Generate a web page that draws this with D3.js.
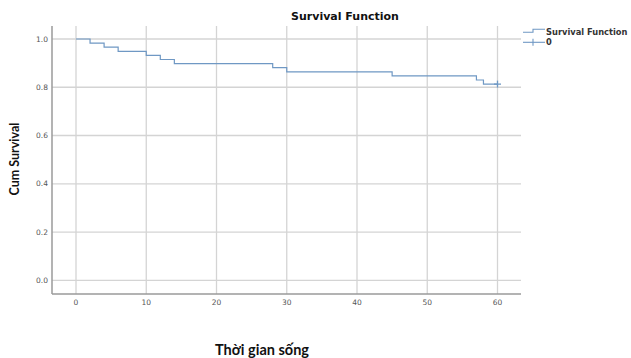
<!DOCTYPE html>
<html><head><meta charset="utf-8">
<script src="https://cdn.jsdelivr.net/npm/d3@7"></script>
<style>body{margin:0;background:#fff}svg{display:block}</style>
</head><body>
<script>
// Data
const eventTimes = [0, 2, 4, 6, 10, 12, 14, 28, 30, 45, 57, 58];
const survival   = [1.0, 0.983, 0.966, 0.949, 0.932, 0.915, 0.898, 0.881, 0.864, 0.847, 0.830, 0.813];
const censorTimes = [60];
const censorSurvival = [0.813];
const xTicks = [0, 10, 20, 30, 40, 50, 60];
const yTicks = [0.0, 0.2, 0.4, 0.6, 0.8, 1.0];
const legendLabels = ["Survival Function", "0"];

const W = 631, H = 358;
const svg = d3.select("body").append("svg").attr("width", W).attr("height", H);

const pLeft = 52, pRight = 521, pTop = 26, pBottom = 294;
const x = d3.scaleLinear().domain([0, 60]).range([76, 497.5]);
const y = d3.scaleLinear().domain([0, 1]).range([280.3, 39]);

// gridlines
const g = svg.append("g");
g.selectAll(".hg").data(yTicks).enter().append("line")
  .attr("x1", pLeft).attr("x2", pRight)
  .attr("y1", d => y(d)).attr("y2", d => y(d))
  .attr("stroke", "#d4d4d4").attr("stroke-width", 1.3);
g.selectAll(".vg").data(xTicks).enter().append("line")
  .attr("y1", pTop).attr("y2", pBottom)
  .attr("x1", d => x(d)).attr("x2", d => x(d))
  .attr("stroke", "#d4d4d4").attr("stroke-width", 1.3);

// axis lines
svg.append("line").attr("x1", pLeft).attr("x2", pLeft).attr("y1", pTop).attr("y2", pBottom)
  .attr("stroke", "#9a9a9a").attr("stroke-width", 1.5);
svg.append("line").attr("x1", pLeft).attr("x2", pRight).attr("y1", pBottom).attr("y2", pBottom)
  .attr("stroke", "#9a9a9a").attr("stroke-width", 1.5);

// tick labels
svg.selectAll(".yt").data(yTicks).enter().append("text")
  .attr("x", 48).attr("y", d => y(d)).attr("dy", "0.35em")
  .attr("text-anchor", "end").attr("font-family", "DejaVu Sans").attr("font-size", 7.5)
  .attr("fill", "#555").text(d => d.toFixed(1));
svg.selectAll(".xt").data(xTicks).enter().append("text")
  .attr("x", d => x(d)).attr("y", 302).attr("dy", "0.35em")
  .attr("text-anchor", "middle").attr("font-family", "DejaVu Sans").attr("font-size", 7.5)
  .attr("fill", "#555").text(d => d);

// step curve
const pts = eventTimes.map((t, i) => [t, survival[i]]);
pts.push([censorTimes[0], censorSurvival[0]]);
const line = d3.line().x(d => x(d[0])).y(d => y(d[1])).curve(d3.curveStepAfter);
const curveColor = "#6f98c4";
svg.append("path").datum(pts).attr("d", line).attr("fill", "none")
  .attr("stroke", curveColor).attr("stroke-width", 1.2);

// censor marks
censorTimes.forEach((t, i) => {
  const cx = x(t), cy = y(censorSurvival[i]);
  svg.append("line").attr("x1", cx - 3.5).attr("x2", cx + 3.5).attr("y1", cy).attr("y2", cy)
    .attr("stroke", curveColor).attr("stroke-width", 1.3);
  svg.append("line").attr("x1", cx).attr("x2", cx).attr("y1", cy - 3.5).attr("y2", cy + 3.5)
    .attr("stroke", curveColor).attr("stroke-width", 1.3);
});

// title
svg.append("text").attr("x", 345).attr("y", 20).attr("text-anchor", "middle")
  .attr("font-family", "DejaVu Sans").attr("font-weight", "bold").attr("font-size", 11)
  .attr("fill", "#111").text("Survival Function");

// axis titles
svg.append("text").attr("transform", "translate(19,159) rotate(-90)")
  .attr("text-anchor", "middle").attr("font-family", "Lato").attr("font-weight", "bold")
  .attr("font-size", 12.5).attr("fill", "#111").text("Cum Survival");
svg.append("text").attr("x", 262).attr("y", 355).attr("text-anchor", "middle")
  .attr("font-family", "Lato").attr("font-weight", "bold").attr("font-size", 14.5)
  .attr("fill", "#111").text("Thời gian sống");

// legend
const lg = svg.append("g");
lg.append("path").attr("d", `M523,32.3 H533 V29.3 H545`).attr("fill", "none")
  .attr("stroke", curveColor).attr("stroke-width", 1.1);
lg.append("line").attr("x1", 523).attr("x2", 545).attr("y1", 42.3).attr("y2", 42.3)
  .attr("stroke", curveColor).attr("stroke-width", 1.1);
lg.append("line").attr("x1", 533).attr("x2", 533).attr("y1", 38.8).attr("y2", 45.8)
  .attr("stroke", curveColor).attr("stroke-width", 1.1);
lg.selectAll(".lt").data(legendLabels).enter().append("text")
  .attr("x", 546).attr("y", (d, i) => 32.3 + i * 10).attr("dy", "0.35em")
  .attr("font-family", "DejaVu Sans").attr("font-weight", "bold").attr("font-size", 8.3)
  .attr("fill", "#333").text(d => d);
</script>
</body></html>
